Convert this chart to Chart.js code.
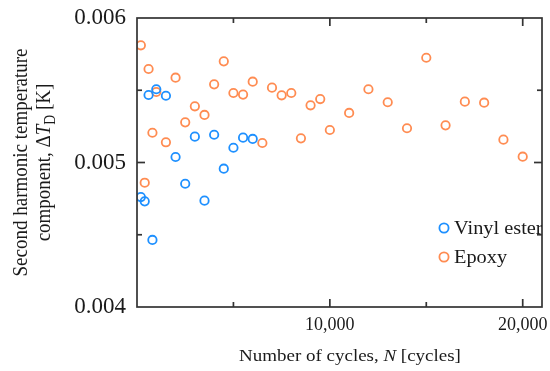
<!DOCTYPE html>
<html><head><meta charset="utf-8">
<script src="https://cdn.jsdelivr.net/npm/chart.js@4/dist/chart.umd.min.js"></script>
<style>html,body{margin:0;padding:0;background:#fff;}#wrap{width:550px;height:371px;}</style>
</head><body><div id="wrap"><canvas id="c" width="550" height="371"></canvas></div>
<script>
// ---- data ----
const vinylCycles = [200, 400, 600, 800, 1000, 1500, 2000, 2500, 3000, 3500, 4000, 4500, 5000, 5500, 6000];
const vinylDeltaT = [0.004761, 0.004731, 0.005467, 0.004464, 0.005507, 0.005462, 0.005038, 0.004853, 0.005179, 0.004736, 0.005192, 0.004957, 0.005102, 0.005172, 0.005163];
const epoxyCycles = [200, 400, 600, 800, 1000, 1500, 2000, 2500, 3000, 3500, 4000, 4500, 5000, 5500, 6000, 6500, 7000, 7500, 8000, 8500, 9000, 9500, 10000, 11000, 12000, 13000, 14000, 15000, 16000, 17000, 18000, 19000, 20000];
const epoxyDeltaT = [0.005811, 0.004860, 0.005647, 0.005206, 0.005488, 0.005140, 0.005587, 0.005278, 0.005389, 0.005329, 0.005541, 0.005700, 0.005481, 0.005470, 0.005559, 0.005135, 0.005518, 0.005465, 0.005481, 0.005167, 0.005396, 0.005439, 0.005225, 0.005343, 0.005507, 0.005417, 0.005237, 0.005725, 0.005257, 0.005421, 0.005414, 0.005158, 0.005040];
const seriesNames = ['Vinyl ester', 'Epoxy'];
const seriesColors = ['rgb(30,144,255)', 'rgb(255,140,82)'];
const xAllTicks = [0, 5000, 10000, 15000, 20000];
const xMajorTicks = [10000, 20000];
const xTickLabels = ['10,000', '20,000'];
const xMinorTicks = [5000, 15000];
const yAllTicks = [0.004, 0.0045, 0.005, 0.0055, 0.006];
const yMajorTicks = [0.004, 0.005, 0.006];
const yTickLabels = ['0.004', '0.005', '0.006'];
const yMinorTicks = [0.0045, 0.0055];

const FONT = "'Liberation Serif', 'Times New Roman', serif";
const TEXT = '#1a1a1a';
const STRETCH = 1.15;

function toPoints(xs, ys) { return xs.map((v, i) => ({ x: v, y: ys[i] })); }

function drawRich(ctx, segs, size) {
  const fontFor = s => (s.italic ? 'italic ' : '') + (s.sub ? size * 0.72 : size) + 'px ' + FONT;
  let total = 0;
  segs.forEach(s => { ctx.font = fontFor(s); s.w = ctx.measureText(s.t).width; total += s.w; });
  let x = -total / 2;
  ctx.textBaseline = 'alphabetic';
  ctx.textAlign = 'left';
  segs.forEach(s => {
    ctx.font = fontFor(s);
    ctx.fillText(s.t, x, s.sub ? size * 0.22 : 0);
    x += s.w;
  });
}

const decorPlugin = {
  id: 'decor',
  afterDatasetsDraw(chart) {
    const { ctx, chartArea: a, scales: { x, y } } = chart;
    ctx.save();
    ctx.strokeStyle = '#333';
    ctx.lineWidth = 1.7;
    ctx.strokeRect(a.left, a.top, a.right - a.left, a.bottom - a.top);
    const line = (x1, y1, x2, y2) => { ctx.beginPath(); ctx.moveTo(x1, y1); ctx.lineTo(x2, y2); ctx.stroke(); };
    const xt = (v, len) => { const p = x.getPixelForValue(v); line(p, a.bottom, p, a.bottom - len); line(p, a.top, p, a.top + len); };
    const yt = (v, len) => { const p = y.getPixelForValue(v); line(a.left, p, a.left + len, p); line(a.right, p, a.right - len, p); };
    xMajorTicks.forEach(v => xt(v, 8));
    xMinorTicks.forEach(v => xt(v, 5));
    yMajorTicks.slice(1, -1).forEach(v => yt(v, 8));
    yMinorTicks.forEach(v => yt(v, 5));
    ctx.restore();

    // legend inside the plot, clipped at the frame
    ctx.save();
    ctx.beginPath();
    ctx.rect(a.left, a.top, a.right - a.left, a.bottom - a.top);
    ctx.clip();
    seriesNames.forEach((name, i) => {
      const cy = 228 + i * 29;
      ctx.beginPath();
      ctx.strokeStyle = seriesColors[i];
      ctx.lineWidth = 1.8;
      ctx.arc(444, cy, 4.6, 0, Math.PI * 2);
      ctx.stroke();
      ctx.save();
      ctx.translate(454, cy + 6);
      ctx.scale(1.1, 1);
      ctx.fillStyle = TEXT;
      ctx.font = '18.5px ' + FONT;
      ctx.textBaseline = 'alphabetic';
      ctx.textAlign = 'left';
      ctx.fillText(name, 0, 0);
      ctx.restore();
    });
    ctx.restore();

    // axis titles
    ctx.save();
    ctx.fillStyle = TEXT;
    ctx.translate(350, 361);
    ctx.scale(STRETCH, 1);
    drawRich(ctx, [{ t: 'Number of cycles, ' }, { t: 'N', italic: true }, { t: ' [cycles]' }], 16.5);
    ctx.restore();

    const cy = (a.top + a.bottom) / 2;
    ctx.save();
    ctx.fillStyle = TEXT;
    ctx.translate(27, cy);
    ctx.rotate(-Math.PI / 2);
    ctx.scale(1, STRETCH);
    drawRich(ctx, [{ t: 'Second harmonic temperature' }], 19);
    ctx.restore();
    ctx.save();
    ctx.fillStyle = TEXT;
    ctx.translate(50, cy);
    ctx.rotate(-Math.PI / 2);
    ctx.scale(1, STRETCH);
    drawRich(ctx, [{ t: 'component, Δ' }, { t: 'T', italic: true }, { t: 'D', sub: true }, { t: ' [K]' }], 19);
    ctx.restore();
  }
};

new Chart(document.getElementById('c'), {
  type: 'scatter',
  data: {
    datasets: [
      { label: seriesNames[0], data: toPoints(vinylCycles, vinylDeltaT), borderColor: seriesColors[0], backgroundColor: 'rgba(0,0,0,0)', pointRadius: 4.2, pointHoverRadius: 4.2, borderWidth: 1.8 },
      { label: seriesNames[1], data: toPoints(epoxyCycles, epoxyDeltaT), borderColor: seriesColors[1], backgroundColor: 'rgba(0,0,0,0)', pointRadius: 4.2, pointHoverRadius: 4.2, borderWidth: 1.8 }
    ]
  },
  options: {
    responsive: false,
    animation: false,
    events: [],
    layout: { padding: { top: 18, right: 8, left: 0, bottom: 0 } },
    plugins: { legend: { display: false }, tooltip: { enabled: false } },
    scales: {
      x: {
        type: 'linear', min: 0, max: 21000,
        grid: { display: false, drawTicks: false }, border: { display: false },
        afterBuildTicks: s => { s.ticks = xAllTicks.map(v => ({ value: v })); },
        afterFit: s => { s.height = 64; s.paddingLeft = 0; s.paddingRight = 0; },
        ticks: {
          autoSkip: false, maxRotation: 0, minRotation: 0, padding: 7,
          color: TEXT, font: { family: FONT, size: 18 },
          callback: v => { const i = xMajorTicks.findIndex(t => Math.abs(t - v) < 1e-6); return i >= 0 ? xTickLabels[i] : ''; }
        }
      },
      y: {
        type: 'linear', min: 0.004, max: 0.006,
        grid: { display: false, drawTicks: false }, border: { display: false },
        afterBuildTicks: s => { s.ticks = yAllTicks.map(v => ({ value: v })); },
        afterFit: s => { s.width = 137; s.paddingTop = 0; s.paddingBottom = 0; },
        ticks: {
          autoSkip: false, padding: 11,
          color: TEXT, font: { family: FONT, size: 23 },
          callback: v => { const i = yMajorTicks.findIndex(t => Math.abs(t - v) < 1e-9); return i >= 0 ? yTickLabels[i] : ''; }
        }
      }
    }
  },
  plugins: [decorPlugin]
});
</script></body></html>
